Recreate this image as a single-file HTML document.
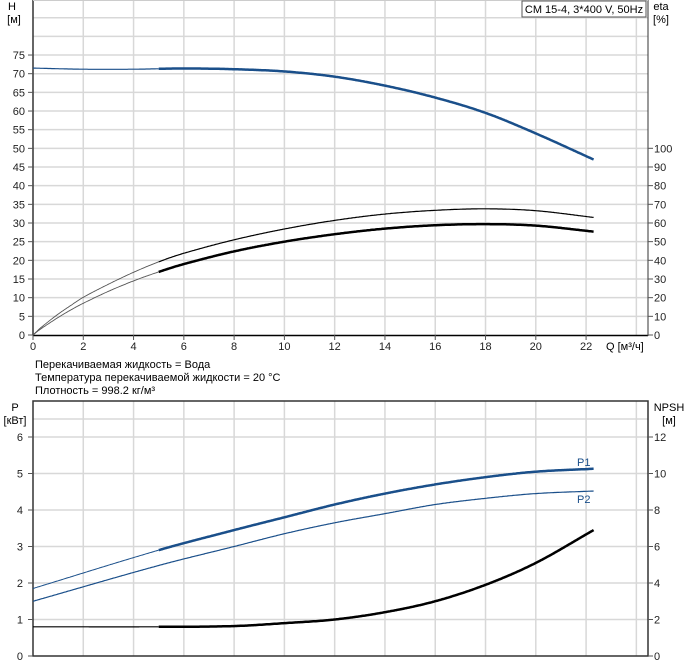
<!DOCTYPE html>
<html><head><meta charset="utf-8"><style>
body{margin:0;background:#fff;}
svg{display:block;font-family:"Liberation Sans",sans-serif;font-size:11px;}
</style></head><body>
<svg id="s" width="689" height="671" xmlns="http://www.w3.org/2000/svg">
<g id="grid" stroke="#d8d8d8" stroke-width="1.5"></g>
<line x1="33" y1="0" x2="33" y2="335" stroke="#333" stroke-width="1.5"/>
<line x1="33" y1="335.5" x2="648" y2="335.5" stroke="#000" stroke-width="1.5"/>
<line x1="648" y1="0" x2="648" y2="336" stroke="#333" stroke-width="1"/>
<line x1="33" y1="0.5" x2="648" y2="0.5" stroke="#ccc" stroke-width="1"/>
<rect x="33" y="401" width="615" height="255" fill="none" stroke="#333" stroke-width="1.5"/>
<g id="ticks" stroke="#555" stroke-width="1"></g>
<g id="labels" fill="#222"></g>
<text x="12" y="10" text-anchor="middle">H</text>
<text x="14" y="23" text-anchor="middle">[м]</text>
<text x="661" y="10" text-anchor="middle">eta</text>
<text x="661" y="23" text-anchor="middle">[%]</text>
<rect x="522" y="1" width="124" height="16" fill="#fff" stroke="#555" stroke-width="1"/>
<text x="584" y="13" text-anchor="middle">CM 15-4, 3*400 V, 50Hz</text>
<text x="606" y="350">Q [м³/ч]</text>
<text x="35" y="368">Перекачиваемая жидкость = Вода</text>
<text x="35" y="381">Температура перекачиваемой жидкости = 20 °C</text>
<text x="35" y="394">Плотность = 998.2 кг/м³</text>
<text x="15" y="411" text-anchor="middle">P</text>
<text x="15" y="424" text-anchor="middle">[кВт]</text>
<text x="669" y="411" text-anchor="middle">NPSH</text>
<text x="669" y="424" text-anchor="middle">[м]</text>
<text x="577" y="466" fill="#1a4f8a">P1</text>
<text x="577" y="503" fill="#1a4f8a">P2</text>
<g id="curves" fill="none"></g>
</svg>
<script>
var NS="http://www.w3.org/2000/svg";
function el(p,t,a,txt){var e=document.createElementNS(NS,t);for(var k in a)e.setAttribute(k,a[k]);if(txt!==undefined)e.textContent=txt;document.getElementById(p).appendChild(e);}
var X=function(q){return 33+q*25.14;};
var grid="grid";
for(var i=1;i<=24;i+=1){if(i%2==0){var x=X(i);el(grid,"line",{x1:x,y1:0,x2:x,y2:335});el(grid,"line",{x1:x,y1:401,x2:x,y2:656});}}
for(var h=5;h<=85;h+=5){var y=335-h*3.733;el(grid,"line",{x1:33,y1:y,x2:648,y2:y});}
for(var p=1;p<=6;p++){var y=656-p*36.5;el(grid,"line",{x1:33,y1:y,x2:648,y2:y});}
el(grid,"line",{x1:33,y1:419,x2:648,y2:419});
for(var h=0;h<=75;h+=5){var y=335-h*3.733;el("labels","text",{x:25,y:y+4,"text-anchor":"end"},h);el("ticks","line",{x1:28,y1:y,x2:33,y2:y});}
for(var e=0;e<=100;e+=10){var y=335-e*1.867;el("labels","text",{x:654,y:y+4},e);el("ticks","line",{x1:648,y1:y,x2:653,y2:y});}
for(var q=0;q<=22;q+=2){var x=X(q);el("labels","text",{x:x,y:350,"text-anchor":"middle"},q);el("ticks","line",{x1:x,y1:335,x2:x,y2:340});}
for(var p=0;p<=6;p++){var y=656-p*36.5;el("labels","text",{x:23,y:y+4,"text-anchor":"end"},p);el("ticks","line",{x1:28,y1:y,x2:33,y2:y});
 el("labels","text",{x:654,y:y+4},p*2);el("ticks","line",{x1:648,y1:y,x2:653,y2:y});}
function interp(pts,q){for(var i=0;i<pts.length-1;i++){var a=pts[i],b=pts[i+1];if(q>=a[0]&&q<=b[0]){
 var p0=pts[Math.max(i-1,0)],p3=pts[Math.min(i+2,pts.length-1)];var t=(q-a[0])/(b[0]-a[0]);
 var m1=(b[1]-p0[1])/(b[0]-p0[0])*(b[0]-a[0]),m2=(p3[1]-a[1])/(p3[0]-a[0])*(b[0]-a[0]);
 var t2=t*t,t3=t2*t;return (2*t3-3*t2+1)*a[1]+(t3-2*t2+t)*m1+(-2*t3+3*t2)*b[1]+(t3-t2)*m2;}}return pts[pts.length-1][1];}
function draw(pts,fy,q0,q1,col,w){var d="";for(var q=q0;q<=q1+1e-6;q+=0.05){var v=interp(pts,q);d+=(d?"L":"M")+X(q).toFixed(1)+","+fy(v).toFixed(1);}
 el("curves","path",{d:d,stroke:col,"stroke-width":w,"stroke-linejoin":"round"});}
var HY=function(v){return 335-v*3.733;},PY=function(v){return 656-v*36.5;};
var H=[[0,71.5],[2,71.2],[4,71.2],[6,71.4],[8,71.2],[10,70.6],[12,69.2],[14,66.8],[16,63.6],[18,59.5],[20,54],[22.3,47]];
var E1=[[0,0],[0.25,1.6],[0.5,3.0],[1,5.6],[1.5,7.9],[2,10.1],[3,13.6],[4,16.8],[5,19.6],[6,21.9],[8,25.5],[10,28.4],[12,30.7],[14,32.4],[16,33.4],[18,33.8],[20,33.3],[22.3,31.5]];
var E2=[[0,0],[0.25,1.35],[0.5,2.5],[1,4.7],[1.5,6.7],[2,8.5],[3,11.7],[4,14.5],[5,16.9],[6,19.0],[8,22.4],[10,25],[12,27],[14,28.5],[16,29.4],[18,29.7],[20,29.3],[22.3,27.7]];
var P1=[[0,1.85],[5,2.9],[8,3.45],[10,3.8],[12,4.15],[14,4.45],[16,4.7],[18,4.9],[20,5.05],[22.3,5.13]];
var P2=[[0,1.5],[5,2.48],[8,3.0],[10,3.35],[12,3.65],[14,3.9],[16,4.15],[18,4.32],[20,4.45],[22.3,4.52]];
var N=[[0,0.8],[5,0.8],[8,0.82],[10,0.9],[12,1.0],[14,1.2],[16,1.5],[18,1.95],[20,2.55],[22.3,3.45]];
var B="#1a4f8a";
draw(H,HY,0,5,B,1.2);draw(H,HY,5,22.3,B,2.5);
draw(E1,HY,0,5,"#555",0.9);draw(E1,HY,5,22.3,"#000",1.2);
draw(E2,HY,0,5,"#555",0.9);draw(E2,HY,5,22.3,"#000",2.5);
draw(P1,PY,0,5,B,1);draw(P1,PY,5,22.3,B,2.5);
draw(P2,PY,0,22.3,B,1.2);
draw(N,PY,0,5,"#000",1.2);draw(N,PY,5,22.3,"#000",2.5);
</script>
</body></html>
